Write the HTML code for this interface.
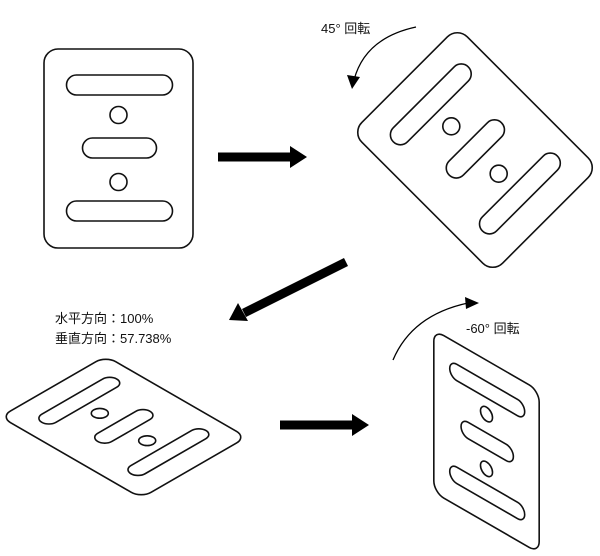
<!DOCTYPE html>
<html><head><style>
body{margin:0;background:#fff;}
svg{display:block;}
text{font-family:"Liberation Sans","Noto Sans CJK JP",sans-serif;font-size:13px;fill:#111;}
</style></head><body>
<svg width="600" height="556" viewBox="0 0 600 556" xmlns="http://www.w3.org/2000/svg">
<defs>
<g id="plate" fill="none" stroke="#111" stroke-width="1.6">
<rect x="-74.5" y="-99.5" width="149" height="199" rx="14" vector-effect="non-scaling-stroke"/>
<rect x="-52" y="-73.5" width="106" height="20" rx="10" vector-effect="non-scaling-stroke"/>
<circle cx="0" cy="-33.5" r="8.5" vector-effect="non-scaling-stroke"/>
<rect x="-36" y="-10.5" width="74" height="20" rx="10" vector-effect="non-scaling-stroke"/>
<circle cx="0" cy="33.5" r="8.5" vector-effect="non-scaling-stroke"/>
<rect x="-52" y="52.5" width="106" height="20" rx="10" vector-effect="non-scaling-stroke"/>
</g>
</defs>
<use href="#plate" transform="translate(118.5,148.5)"/>
<use href="#plate" transform="translate(475,150) rotate(-45)"/>
<use href="#plate" transform="translate(123.5,427) scale(1,0.57738) rotate(-45)"/>
<use href="#plate" transform="translate(486.5,441.5) rotate(60) scale(1,0.57738) rotate(-45)"/>

<!-- straight arrows -->
<line x1="218" y1="157" x2="292" y2="157" stroke="#000" stroke-width="9"/>
<polygon points="290,146 307,157 290,168" fill="#000"/>
<line x1="346" y1="262" x2="244" y2="313" stroke="#000" stroke-width="9"/>
<polygon points="238,303 229,320 248,321" fill="#000"/>
<line x1="280" y1="425" x2="354" y2="425" stroke="#000" stroke-width="9"/>
<polygon points="352,414 369,425 352,436" fill="#000"/>

<!-- curved arrows -->
<path d="M416,27 Q365,38 354,80" fill="none" stroke="#000" stroke-width="1.3"/>
<polygon points="347,75 352,89 360,77" fill="#000"/>
<path d="M393,360 Q412,315 468,303" fill="none" stroke="#000" stroke-width="1.3"/>
<polygon points="465,297 479,303 466,309" fill="#000"/>

<text x="321" y="33">45° 回転</text>
<text x="466" y="333">-60° 回転</text>
<text x="55" y="323">水平方向：100%</text>
<text x="55" y="343">垂直方向：57.738%</text>
</svg>
</body></html>
